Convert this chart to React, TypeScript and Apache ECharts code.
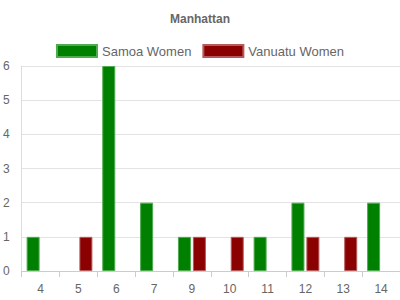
import React, { useEffect, useRef } from "react";
import * as echarts from "echarts";

const categories = ["4", "5", "6", "7", "9", "10", "11", "12", "13", "14"];
const samoaWomen = [1, 0, 6, 2, 1, 0, 1, 2, 0, 2];
const vanuatuWomen = [0, 1, 0, 0, 1, 1, 0, 1, 1, 0];

const hideZero = (arr: number[]) => arr.map((v) => (v === 0 ? null : v));

export default function App() {
  const ref = useRef<HTMLDivElement>(null);
  useEffect(() => {
    if (!ref.current) return;
    const chart = echarts.init(ref.current, null, { renderer: "svg" });
    const font = "'Liberation Sans', Arial, sans-serif";
    chart.setOption({
      animation: false,
      textStyle: { fontFamily: font },
      title: {
        text: "Manhattan",
        left: "center",
        top: 8,
        textStyle: { fontSize: 12, fontWeight: "bold", color: "#666", fontFamily: font },
      },
      legend: {
        top: 39,
        left: "center",
        itemWidth: 40,
        itemHeight: 12,
        itemGap: 11,
        icon: "rect",
        textStyle: { fontSize: 13, color: "#666", fontFamily: font },
        data: ["Samoa Women", "Vanuatu Women"],
      },
      grid: { left: 21, right: 0, top: 66, bottom: 29, containLabel: false },
      xAxis: {
        type: "category",
        data: categories,
        axisLine: { lineStyle: { color: "#ccc" } },
        axisTick: { show: true, length: 6, lineStyle: { color: "#ccc" } },
        axisLabel: { color: "#666", fontSize: 12, margin: 12, fontFamily: font },
      },
      yAxis: {
        type: "value",
        min: 0,
        max: 6,
        interval: 1,
        axisLine: { show: true, lineStyle: { color: "#ddd" } },
        axisTick: { show: false },
        axisLabel: { color: "#666", fontSize: 12, margin: 12, fontFamily: font },
        splitLine: { lineStyle: { color: "#e3e3e3" } },
      },
      series: [
        {
          name: "Samoa Women",
          type: "bar",
          data: hideZero(samoaWomen),
          barWidth: 13,
          barGap: "15%",
          itemStyle: { color: "#008000", borderColor: "rgba(80,170,80,1)", borderWidth: 1 },
        },
        {
          name: "Vanuatu Women",
          type: "bar",
          data: hideZero(vanuatuWomen),
          barWidth: 13,
          barGap: "15%",
          itemStyle: { color: "#8b0000", borderColor: "rgba(180,90,90,1)", borderWidth: 1 },
        },
      ],
    });
    return () => chart.dispose();
  }, []);
  return <div ref={ref} style={{ width: 400, height: 300, position: "absolute", left: 0, top: 0 }} />;
}
